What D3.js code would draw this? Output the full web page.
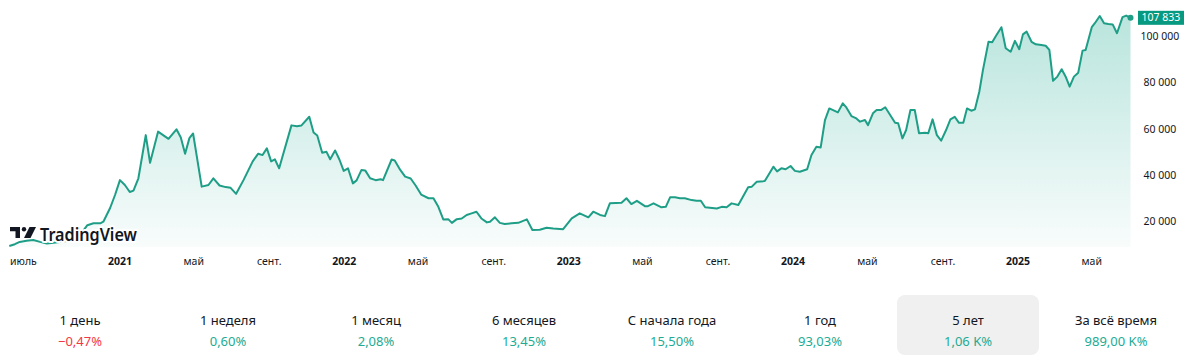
<!DOCTYPE html>
<html>
<head>
<meta charset="utf-8">
<script src="https://cdn.jsdelivr.net/npm/d3@7"></script>
<style>
  body { margin: 0; background: #fff; }
  svg { display: block; font-family: 'Noto Sans', sans-serif; }
</style>
</head>
<body>
<svg id="chart"></svg>
<script>
// weekly-ish closes
var priceDates = [
  '2020-07-05','2020-07-14','2020-07-22','2020-08-02','2020-08-13','2020-08-24','2020-09-04','2020-09-15','2020-09-25','2020-10-09',
  '2020-10-25','2020-11-09','2020-11-19','2020-11-30','2020-12-05','2020-12-16','2020-12-24','2021-01-01','2021-01-09','2021-01-17',
  '2021-01-23','2021-01-31','2021-02-12','2021-02-19','2021-03-04','2021-03-21','2021-04-03','2021-04-10','2021-04-17','2021-04-24',
  '2021-04-30','2021-05-14','2021-05-25','2021-06-02','2021-06-12','2021-06-22','2021-06-30','2021-07-09','2021-07-21','2021-08-05',
  '2021-08-14','2021-08-21','2021-08-28','2021-09-04','2021-09-10','2021-09-17','2021-10-07','2021-10-16','2021-10-23','2021-11-05',
  '2021-11-12','2021-11-18','2021-11-26','2021-12-03','2021-12-09','2021-12-17','2021-12-24','2021-12-31','2022-01-07','2022-01-15',
  '2022-01-21','2022-01-29','2022-02-04','2022-02-12','2022-02-21','2022-03-01','2022-03-05','2022-03-19','2022-03-24','2022-04-02',
  '2022-04-10','2022-04-19','2022-04-27','2022-05-06','2022-05-18','2022-05-26','2022-06-03','2022-06-11','2022-06-19','2022-06-25',
  '2022-07-03','2022-07-11','2022-07-19','2022-07-27','2022-08-04','2022-08-12','2022-08-21','2022-08-26','2022-09-03','2022-09-11',
  '2022-09-19','2022-09-30','2022-10-11','2022-10-25','2022-11-03','2022-11-15','2022-11-26','2022-12-07','2022-12-23','2023-01-06',
  '2023-01-19','2023-02-02','2023-02-10','2023-02-21','2023-03-01','2023-03-09','2023-03-28','2023-04-05','2023-04-13','2023-04-22',
  '2023-05-05','2023-05-10','2023-05-19','2023-06-01','2023-06-08','2023-06-15','2023-06-23','2023-07-01','2023-07-09','2023-07-20',
  '2023-07-28','2023-08-04','2023-08-11','2023-08-30','2023-09-07','2023-09-15','2023-09-23','2023-10-04','2023-10-20','2023-10-26',
  '2023-11-03','2023-11-16','2023-11-22','2023-11-30','2023-12-06','2023-12-13','2023-12-20','2023-12-28','2024-01-04','2024-01-12',
  '2024-01-24','2024-01-31','2024-02-08','2024-02-15','2024-02-22','2024-02-29','2024-03-14','2024-03-22','2024-03-27','2024-04-05',
  '2024-04-13','2024-04-19','2024-04-27','2024-05-02','2024-05-10','2024-05-16','2024-05-23','2024-05-30','2024-06-07','2024-06-15',
  '2024-06-20','2024-06-27','2024-07-03','2024-07-10','2024-07-17','2024-07-24','2024-08-03','2024-08-08','2024-08-15','2024-08-22',
  '2024-08-29','2024-09-06','2024-09-13','2024-09-20','2024-09-27','2024-10-04','2024-10-10','2024-10-17','2024-10-23','2024-10-30',
  '2024-11-05','2024-11-14','2024-11-20','2024-11-26','2024-12-05','2024-12-12','2024-12-20','2024-12-27','2025-01-03','2025-01-09',
  '2025-01-15','2025-01-23','2025-01-30','2025-02-08','2025-02-15','2025-02-21','2025-02-27','2025-03-06','2025-03-13','2025-03-20',
  '2025-03-26','2025-04-02','2025-04-09','2025-04-16','2025-04-21','2025-05-01','2025-05-06','2025-05-14','2025-05-21','2025-05-28',
  '2025-06-04','2025-06-11','2025-06-20','2025-06-26','2025-07-03'
];
var priceValues = [
  9500,10300,11300,11800,12100,11300,10600,10900,11300,11800,
  13100,18500,19300,19300,20000,25900,31500,37900,35800,32800,
  33400,38700,57300,45400,58800,55700,59800,56300,49300,56000,
  58000,35100,35800,38700,35600,34900,34600,32000,37900,46000,
  49300,48700,51600,46000,46900,43000,61500,61100,61400,65200,
  58400,57100,49700,50100,46900,50700,46800,41900,43000,36500,
  37800,42300,42100,38700,37900,38300,37900,46800,46400,42300,
  39400,38600,35600,31700,30100,30100,26400,21000,21100,19500,
  21100,21400,22900,23600,24300,21400,19700,20000,21900,19500,
  19000,19300,19500,21000,16400,16500,17400,17100,16800,21400,
  23600,21900,24300,22900,22400,27900,28200,30100,27600,29000,
  26700,26700,27900,26200,26400,30500,30500,30100,30100,29300,
  29000,29000,26200,25700,26400,26200,27900,27200,34800,35100,
  37200,37500,40100,43700,41700,43000,42600,44000,41900,41500,
  42600,48700,52300,52000,63800,68800,67100,71000,69500,65500,
  64500,63100,63800,61600,66700,68100,68100,69300,66000,62600,
  62400,55900,59500,68100,68100,58100,58300,58100,64100,57300,
  54900,59500,64100,65200,62600,62600,68800,67800,68400,76000,
  85400,97500,97300,100000,103800,94700,93200,97900,94300,100700,
  101900,97500,96400,96100,95800,94000,80700,82500,85700,82200,
  78200,82500,84200,93700,94000,103800,105500,108600,105500,105200,
  105000,101200,108100,108800,107833
];
var lastPrice = 107833;

var xTickDates  = ['2020-07-01','2021-01-01','2021-05-01','2021-09-01','2022-01-01','2022-05-01','2022-09-01',
                   '2023-01-01','2023-05-01','2023-09-01','2024-01-01','2024-05-01','2024-09-01','2025-01-01','2025-05-01'];
var xTickLabels = ['июль','2021','май','сент.','2022','май','сент.','2023','май','сент.','2024','май','сент.','2025','май'];
var yTicks = [20000, 40000, 60000, 80000, 100000];

var periodLabels = ['1 день','1 неделя','1 месяц','6 месяцев','С начала года','1 год','5 лет','За всё время'];
var periodValues = ['\u22120,47%','0,60%','2,08%','13,45%','15,50%','93,03%','1,06\u00a0K%','989,00\u00a0K%'];
var periodSigns  = [-1, 1, 1, 1, 1, 1, 1, 1];
var activePeriod = '5 лет';

// layout
var W = 1200, H = 362;
var plot = { left: 9.3, right: 1130.5, top: 36, bottom: 247 };
var lineColor = '#1e9e86', upColor = '#22ab94', downColor = '#f23645', textColor = '#131722';

var parse = d3.timeParse('%Y-%m-%d');
var data = priceDates.map(function(d, i){ return { date: parse(d), value: priceValues[i] }; });

var svg = d3.select('#chart').attr('width', W).attr('height', H);

var x = d3.scaleTime()
    .domain(d3.extent(data, function(d){ return d.date; }))
    .range([plot.left, plot.right]);
var y = d3.scaleLinear()
    .domain([20000, 100000])
    .range([221.7, plot.top]);

// gradient under the line
var defs = svg.append('defs');
var grad = defs.append('linearGradient')
    .attr('id', 'areaGrad')
    .attr('gradientUnits', 'userSpaceOnUse')
    .attr('x1', 0).attr('x2', 0)
    .attr('y1', y(110000)).attr('y2', plot.bottom);
grad.append('stop').attr('offset', 0).attr('stop-color', '#22ab94').attr('stop-opacity', 0.32);
grad.append('stop').attr('offset', 1).attr('stop-color', '#22ab94').attr('stop-opacity', 0.03);

var area = d3.area()
    .x(function(d){ return x(d.date); })
    .y0(plot.bottom)
    .y1(function(d){ return y(d.value); });
var line = d3.line()
    .x(function(d){ return x(d.date); })
    .y(function(d){ return y(d.value); });

svg.append('path').datum(data)
    .attr('d', area)
    .attr('fill', 'url(#areaGrad)');
svg.append('path').datum(data)
    .attr('d', line)
    .attr('fill', 'none')
    .attr('stroke', lineColor)
    .attr('stroke-width', 2)
    .attr('stroke-linejoin', 'round');

var last = data[data.length - 1];
svg.append('circle')
    .attr('cx', x(last.date)).attr('cy', y(last.value))
    .attr('r', 3)
    .attr('fill', lineColor);

// y axis (right)
var fmt = d3.formatLocale({ decimal: ',', thousands: '\u00a0', grouping: [3], currency: ['', ''] }).format(',d');
svg.append('g').selectAll('text')
    .data(yTicks)
    .enter().append('text')
    .attr('x', 1160)
    .attr('y', function(d){ return y(d); })
    .attr('dy', '0.35em')
    .attr('text-anchor', 'middle')
    .style('font-size', '10.5px')
    .attr('fill', textColor)
    .text(function(d){ return fmt(d); });

// last price label
svg.append('rect')
    .attr('x', 1138).attr('y', y(lastPrice) - 7)
    .attr('width', 46).attr('height', 14)
    .attr('fill', '#089981');
svg.append('text')
    .attr('x', 1161).attr('y', y(lastPrice))
    .attr('dy', '0.35em')
    .attr('text-anchor', 'middle')
    .style('font-size', '10.5px')
    .attr('fill', '#fff')
    .text(fmt(lastPrice));

// x axis labels
var xl = svg.append('g').selectAll('text')
    .data(xTickDates)
    .enter().append('text')
    .attr('x', function(d){ return x(parse(d)); })
    .attr('y', 261)
    .attr('dy', '0.35em')
    .attr('text-anchor', 'middle')
    .style('font-size', '10.5px')
    .style('font-weight', function(d, i){ return /^\d{4}$/.test(xTickLabels[i]) ? 700 : 400; })
    .attr('fill', textColor)
    .text(function(d, i){ return xTickLabels[i]; });
// keep the first label inside the chart
xl.filter(function(d, i){ return i === 0; })
    .attr('text-anchor', 'start')
    .attr('x', 10);

// TradingView logo
var logo = svg.append('g').attr('transform', 'translate(10,227)');
logo.append('path')
    .attr('d', 'M0 0H10V11H5.5V4.3H0Z')
    .attr('fill', textColor);
logo.append('circle').attr('cx', 14).attr('cy', 2.2).attr('r', 2.2).attr('fill', textColor);
logo.append('path')
    .attr('d', 'M19.5 0H26L20.5 11H14Z')
    .attr('fill', textColor);
logo.append('text')
    .attr('x', 30).attr('y', 14)
    .attr('textLength', 97)
    .attr('lengthAdjust', 'spacingAndGlyphs')
    .style('font-size', '17px')
    .style('font-weight', 600)
    .style('paint-order', 'stroke')
    .attr('stroke', '#fff').attr('stroke-width', 4).attr('stroke-linejoin', 'round')
    .attr('fill', textColor)
    .text('TradingView');

// period performance row
var band = d3.scaleBand().domain(periodLabels).range([6, 1190]);

svg.append('rect')
    .attr('x', band(activePeriod) + 3).attr('y', 295)
    .attr('width', band.bandwidth() - 6).attr('height', 60)
    .attr('rx', 8)
    .attr('fill', '#f0f0f0');

var cells = svg.append('g').selectAll('g')
    .data(periodLabels)
    .enter().append('g')
    .attr('transform', function(d){ return 'translate(' + (band(d) + band.bandwidth() / 2) + ',0)'; });
cells.append('text')
    .attr('y', 325)
    .attr('text-anchor', 'middle')
    .style('font-size', '13px')
    .attr('fill', textColor)
    .text(function(d){ return d; });
cells.append('text')
    .attr('y', 346)
    .attr('text-anchor', 'middle')
    .style('font-size', '13px')
    .attr('fill', function(d, i){ return periodSigns[i] < 0 ? downColor : upColor; })
    .text(function(d, i){ return periodValues[i]; });
</script>
</body>
</html>
